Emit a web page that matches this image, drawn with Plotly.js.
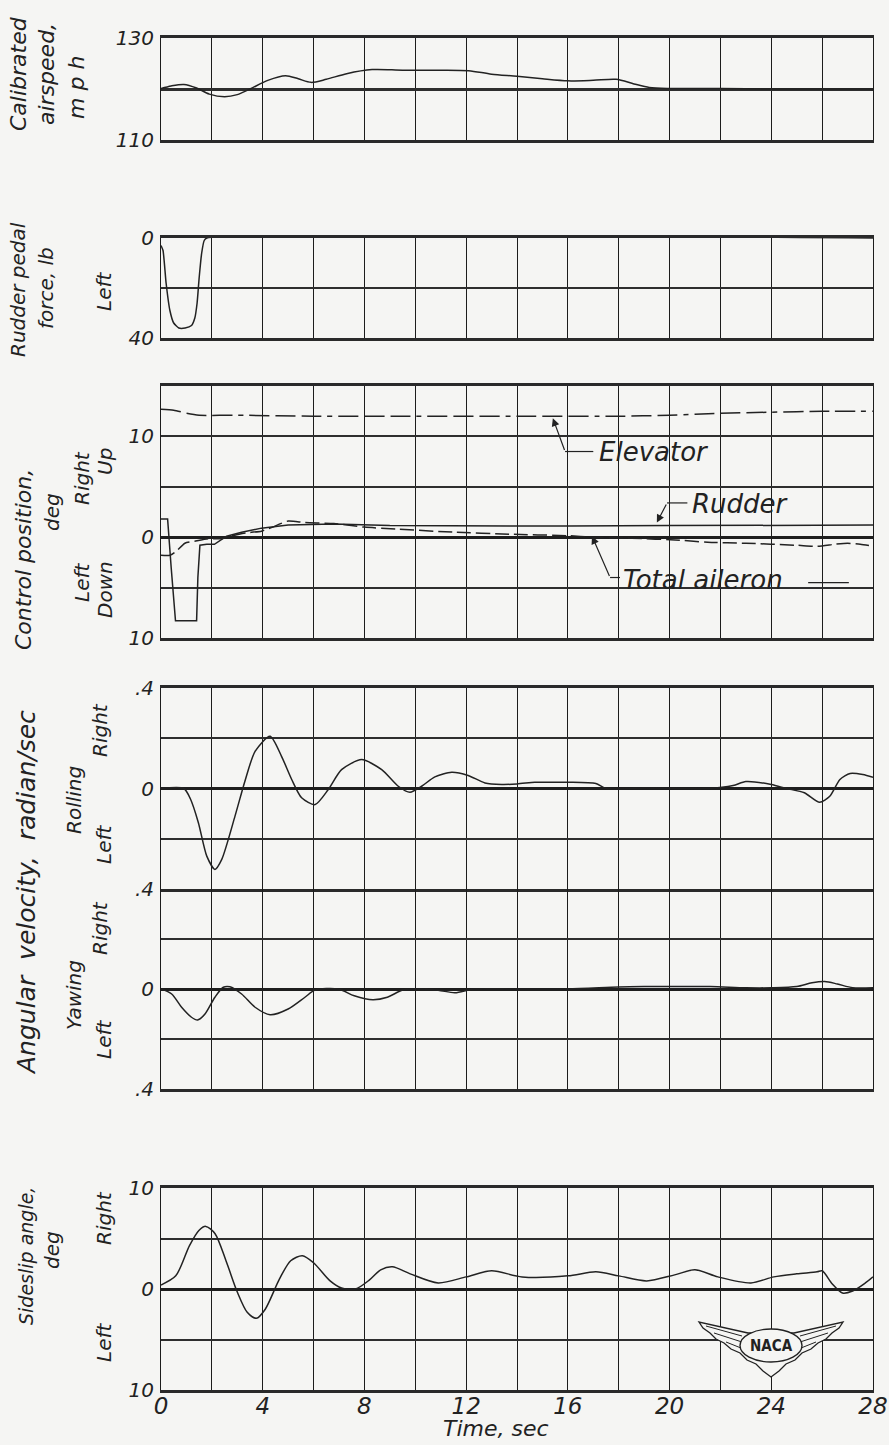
<!DOCTYPE html>
<html>
<head>
<meta charset="utf-8">
<script src="https://cdn.plot.ly/plotly-3.0.1.min.js"></script>
<style>
html,body{margin:0;padding:0;background:#f5f5f3;}
#chart{width:889px;height:1445px;}
</style>
</head>
<body>
<div id="chart"></div>
<script>
// ---------------- DATA ----------------
const xTickVals = [0,2,4,6,8,10,12,14,16,18,20,22,24,26,28];
const xTickText = ['0','','4','','8','','12','','16','','20','','24','','28'];

const airspeedT = [0,0.4,0.9,1.4,1.9,2.5,3.0,3.5,4.2,4.9,5.4,5.9,6.5,7.3,8.3,9.5,11,12.1,13,14,15,16,17,17.9,18.6,19.2,20,22,24,26,28];
const airspeedV = [120.1,120.6,120.9,120.2,119.0,118.5,118.9,120.0,121.7,122.6,122.0,121.3,121.9,123.0,123.8,123.7,123.7,123.6,122.9,122.5,122.0,121.6,121.7,121.9,121.0,120.3,120.1,120.1,120.0,120.0,120.0];

const pedalT = [0,0.08,0.2,0.35,0.5,0.7,0.95,1.2,1.33,1.42,1.5,1.6,1.7,1.8,28];
const pedalV = [3,5,18,29,34,36,36,35,32,26,16,6,1,0,0];

const elevatorT = [0,0.5,1.0,1.5,3,6,10,14,18,20,21,22,24,26,28];
const elevatorV = [12.7,12.6,12.3,12.1,12.1,12.0,12.0,12.0,12.0,12.1,12.2,12.3,12.4,12.5,12.5];

const rudderT = [0,0.26,0.4,0.57,1.4,1.45,1.53,1.8,2.1,2.58,3.17,3.95,5.0,6.8,9,12,16,20,24,28];
const rudderV = [1.8,1.8,-3.0,-8.3,-8.3,-4.0,-0.8,-0.7,-0.7,0.1,0.5,0.9,1.2,1.3,1.15,1.1,1.1,1.15,1.2,1.2];

const aileronT = [0,0.35,0.6,0.94,1.33,1.86,2.38,2.9,3.43,3.95,4.34,5.0,5.65,6.8,8,9.3,11.5,13.7,16,17,18.5,20.4,21.5,23,25,25.8,26.5,27,27.5,28];
const aileronV = [-1.8,-1.8,-1.4,-0.6,-0.4,-0.15,-0.15,0.2,0.45,0.6,0.95,1.6,1.45,1.35,1.0,0.8,0.5,0.3,0.15,0.0,-0.1,-0.3,-0.5,-0.6,-0.8,-0.9,-0.7,-0.6,-0.7,-0.9];

const rollT = [0,0.9,1.15,1.47,1.8,2.12,2.39,2.91,3.3,3.7,4.29,4.74,5.14,5.53,6.06,6.58,7.1,7.89,8.68,9.33,9.79,10.25,10.77,11.43,12.08,12.74,13.4,14.0,14.7,15.1,16,17.1,17.5,19,20.5,21.5,22.5,23,24,24.6,25.3,25.9,26.3,26.7,27.1,27.6,28];
const rollV = [0,0,-0.04,-0.136,-0.269,-0.322,-0.282,-0.11,0.029,0.148,0.208,0.128,0.036,-0.037,-0.064,-0.004,0.075,0.115,0.075,0.009,-0.015,0.009,0.046,0.065,0.052,0.022,0.016,0.018,0.025,0.025,0.025,0.02,0.0,0.002,0.0,0.0,0.012,0.028,0.016,0.0,-0.017,-0.055,-0.031,0.036,0.06,0.056,0.045];

const yawT = [0,0.42,0.81,1.2,1.44,1.73,2.12,2.45,2.71,3.17,3.7,4.29,5.0,5.66,6.06,6.97,7.6,8.33,8.9,9.5,10,10.9,11.56,12.3,14,16,18,19,20,21.6,23,24,25,25.6,26.1,26.6,27.2,28];
const yawV = [0,-0.02,-0.073,-0.113,-0.124,-0.1,-0.033,0.007,0.009,-0.02,-0.073,-0.103,-0.08,-0.033,-0.004,0,-0.027,-0.043,-0.033,-0.004,0,-0.005,-0.015,0,0,0,0.008,0.01,0.01,0.01,0.005,0.005,0.01,0.025,0.03,0.02,0.005,0.005];

const sideslipT = [0,0.58,1.12,1.49,1.76,2.12,2.57,3.0,3.39,3.75,4.1,4.66,5.1,5.56,6.0,6.65,7.1,7.65,8.2,8.64,9.1,9.8,10.9,12.0,13.0,14.2,16.0,17.1,18.0,19.1,20.2,21.0,21.9,23.2,24.1,25.0,25.8,26.0,26.4,26.8,27.2,27.7,28];
const sideslipV = [0.4,1.3,4.3,5.8,6.2,5.5,2.7,-0.3,-2.3,-2.9,-2.0,1.0,2.8,3.3,2.6,0.8,0.1,0.0,0.9,1.9,2.2,1.5,0.6,1.2,1.8,1.2,1.3,1.7,1.3,0.8,1.4,1.9,1.2,0.6,1.2,1.5,1.7,1.8,0.5,-0.4,-0.2,0.6,1.2];

// ---------------- LAYOUT HELPERS ----------------
const W = 889, H = 1445;
const BG = '#f5f5f3';
const INK = '#222222';
const FONT = 'DejaVu Sans';
const px = x => x / W;
const py = y => 1 - y / H;
const dom = (top, bottom) => [1 - bottom / H, 1 - top / H];
const xDom = [161 / W, 873 / W];

const lineStyle = {color: INK, width: 1.5};

function xAx(anchor, showLabels, mirror) {
  return {
    domain: xDom, anchor: anchor, range: [0, 28],
    tickmode: 'array', tickvals: xTickVals, ticktext: xTickText,
    showticklabels: showLabels, ticks: '', ticklabelstandoff: -7,
    showgrid: true, gridcolor: '#1c1c1c', gridwidth: 1,
    zeroline: false,
    showline: true, mirror: mirror, linecolor: '#2a2a2a', linewidth: 3,
    tickfont: {family: FONT, size: 23, color: INK, style: 'italic'},
    fixedrange: true
  };
}
function yAx(anchor, d, range, vals, texts, zl) {
  return {
    domain: d, anchor: anchor, range: range,
    tickmode: 'array', tickvals: vals, ticktext: texts,
    ticks: '', ticklabelstandoff: 2,
    showgrid: true, gridcolor: '#2e2e2e', gridwidth: 2,
    zeroline: zl, zerolinecolor: '#1e1e1e', zerolinewidth: 3,
    showline: true, mirror: true, linecolor: '#1c1c1c', linewidth: 1,
    tickfont: {family: FONT, size: 20, color: INK, style: 'italic'},
    fixedrange: true
  };
}

const traces = [
  {x: airspeedT, y: airspeedV, xaxis: 'x', yaxis: 'y', mode: 'lines', line: Object.assign({shape: 'spline', smoothing: 0.8}, lineStyle)},
  {x: pedalT, y: pedalV, xaxis: 'x2', yaxis: 'y2', mode: 'lines', line: Object.assign({shape: 'spline', smoothing: 0.5}, lineStyle)},
  {x: elevatorT, y: elevatorV, xaxis: 'x3', yaxis: 'y3', mode: 'lines', line: {color: INK, width: 1.5, dash: '20px,6px,20px,6px,20px,6px,5px,6px', shape: 'spline', smoothing: 0.6}},
  {x: rudderT, y: rudderV, xaxis: 'x3', yaxis: 'y3', mode: 'lines', line: Object.assign({shape: 'linear'}, lineStyle)},
  {x: aileronT, y: aileronV, xaxis: 'x3', yaxis: 'y3', mode: 'lines', line: {color: INK, width: 1.5, dash: '14px,5px', shape: 'spline', smoothing: 0.6}},
  {x: rollT, y: rollV, xaxis: 'x4', yaxis: 'y4', mode: 'lines', line: Object.assign({shape: 'spline', smoothing: 0.7}, lineStyle)},
  {x: yawT, y: yawV, xaxis: 'x5', yaxis: 'y5', mode: 'lines', line: Object.assign({shape: 'spline', smoothing: 0.8}, lineStyle)},
  {x: sideslipT, y: sideslipV, xaxis: 'x6', yaxis: 'y6', mode: 'lines', line: Object.assign({shape: 'spline', smoothing: 0.8}, lineStyle)}
];
traces.forEach(t => { t.hoverinfo = 'skip'; t.showlegend = false; });

// rotated side labels
function rot(text, x, y, size) {
  return {text: text, xref: 'paper', yref: 'paper', x: px(x), y: py(y), showarrow: false,
    textangle: -90, xanchor: 'center', yanchor: 'middle',
    font: {family: FONT, size: size || 20, color: INK, style: 'italic'}};
}
function note(text, xr, yr, x, y, anchor, size) {
  return {text: text, xref: xr, yref: yr, x: x, y: y, showarrow: false, xanchor: anchor, yanchor: 'middle',
    font: {family: FONT, size: size || 26, color: INK, style: 'italic'}};
}
function arrow(xr, yr, hx, hy, tx, ty) {
  return {text: '', xref: xr, yref: yr, axref: xr, ayref: yr, x: hx, y: hy, ax: tx, ay: ty,
    showarrow: true, arrowhead: 2, arrowsize: 1.3, arrowwidth: 1.2, arrowcolor: INK, standoff: 0, startstandoff: 0};
}

const annotations = [
  rot('Calibrated', 18, 74, 22), rot('airspeed,', 46, 74, 22), rot('m p h', 76, 88, 22),
  rot('Rudder pedal', 18, 290), rot('force, lb', 46, 288), rot('Left', 104, 292),
  rot('Control position,', 24, 560, 22), rot('deg', 52, 512), rot('Right', 82, 478), rot('Up', 105, 462),
  rot('Left', 82, 583), rot('Down', 105, 590),
  rot('Angular  velocity,  radian/sec', 26, 893, 25),
  rot('Rolling', 74, 800), rot('Right', 100, 730), rot('Left', 104, 845),
  rot('Yawing', 74, 995), rot('Right', 100, 928), rot('Left', 104, 1040),
  rot('Sideslip angle,', 26, 1256, 19), rot('deg', 52, 1250), rot('Right', 104, 1218), rot('Left', 104, 1343),
  {text: 'Time, sec', xref: 'paper', yref: 'paper', x: px(496), y: py(1428), xanchor: 'center', yanchor: 'middle', showarrow: false,
   font: {family: FONT, size: 22, color: INK, style: 'italic'}},
  note('Elevator', 'x3', 'y3', 17.15, 8.5, 'left'),
  arrow('x3', 'y3', 15.41, 11.8, 15.89, 8.5),
  note('Rudder', 'x3', 'y3', 20.8, 3.3, 'left'),
  arrow('x3', 'y3', 19.5, 1.45, 19.9, 3.4),
  note('Total aileron', 'x3', 'y3', 18.1, -4.2, 'left'),
  arrow('x3', 'y3', 16.95, 0.1, 17.66, -4.0),
  {text: '<b>NACA</b>', xref: 'paper', yref: 'paper', x: px(771), y: py(1346), xanchor: 'center', yanchor: 'middle', showarrow: false,
   font: {family: 'DejaVu Sans Condensed, DejaVu Sans', size: 15, color: INK}}
];

// leader lines for labels
const shapes = [
  {type: 'line', xref: 'x3', yref: 'y3', x0: 15.89, x1: 17.0, y0: 8.5, y1: 8.5, line: {color: INK, width: 1.2}},
  {type: 'line', xref: 'x3', yref: 'y3', x0: 19.9, x1: 20.7, y0: 3.4, y1: 3.4, line: {color: INK, width: 1.2}},
  {type: 'line', xref: 'x3', yref: 'y3', x0: 17.66, x1: 18.05, y0: -4.0, y1: -4.0, line: {color: INK, width: 1.2}},
  {type: 'line', xref: 'x3', yref: 'y3', x0: 25.45, x1: 27.05, y0: -4.5, y1: -4.5, line: {color: INK, width: 1.2}}
];

// NACA emblem (decoration)
function pathFrom(pts, close) {
  let s = pts.map((p, i) => (i ? 'L' : 'M') + px(p[0]).toFixed(5) + ',' + py(p[1]).toFixed(5)).join(' ');
  return close ? s + ' Z' : s;
}
const wing = [[748,1333],[699,1322],[703,1328],[710,1333],[716,1339],[724,1343],[731,1349],[740,1353],[747,1360],[756,1364],[763,1371],[771,1377],
              [779,1371],[786,1364],[795,1360],[802,1353],[811,1349],[818,1343],[826,1339],[832,1333],[839,1328],[843,1322],[794,1333]];
shapes.push({type: 'path', xref: 'paper', yref: 'paper', path: pathFrom(wing, true), fillcolor: BG, line: {color: INK, width: 1.3}, layer: 'above'});
[[[706,1326],[742,1336]],[[714,1333],[742,1342]],[[726,1342],[746,1350]],
 [[836,1326],[800,1336]],[[828,1333],[800,1342]],[[816,1342],[796,1350]]].forEach(seg => {
  shapes.push({type: 'path', xref: 'paper', yref: 'paper', path: pathFrom(seg, false), line: {color: INK, width: 1}, layer: 'above'});
});
shapes.push({type: 'circle', xref: 'paper', yref: 'paper', x0: px(740), x1: px(802), y0: py(1362), y1: py(1329), fillcolor: BG, line: {color: INK, width: 1.4}, layer: 'above'});

const layout = {
  width: W, height: H,
  margin: {l: 0, r: 0, t: 0, b: 0},
  paper_bgcolor: BG, plot_bgcolor: BG,
  showlegend: false,
  xaxis: xAx('y', false, true),
  xaxis2: xAx('y2', false, true),
  xaxis3: xAx('y3', false, true),
  xaxis4: xAx('y4', false, true),
  xaxis5: xAx('y5', false, false),
  xaxis6: xAx('y6', true, true),
  yaxis: yAx('x', dom(38, 140), [110, 130], [110, 120, 130], ['110', '', '130'], false),
  yaxis2: yAx('x2', dom(238, 338), [40, 0], [0, 20, 40], ['0', '', '40'], false),
  yaxis3: yAx('x3', dom(386, 638), [-10, 15], [-10, -5, 0, 5, 10, 15], ['10', '', '0', '', '10', ''], true),
  yaxis4: yAx('x4', dom(688, 889), [-0.4, 0.4], [-0.4, -0.2, 0, 0.2, 0.4], ['.4', '', '0', '', '.4'], true),
  yaxis5: yAx('x5', dom(889, 1089), [-0.4, 0.4], [-0.4, -0.2, 0, 0.2, 0.4], ['.4', '', '0', '', ''], true),
  yaxis6: yAx('x6', dom(1188, 1390), [-10, 10], [-10, -5, 0, 5, 10], ['10', '', '0', '', '10'], true),
  annotations: annotations,
  shapes: shapes
};
layout.yaxis.gridwidth = 3;

Plotly.newPlot('chart', traces, layout, {staticPlot: true, displayModeBar: false});
</script>
</body>
</html>
